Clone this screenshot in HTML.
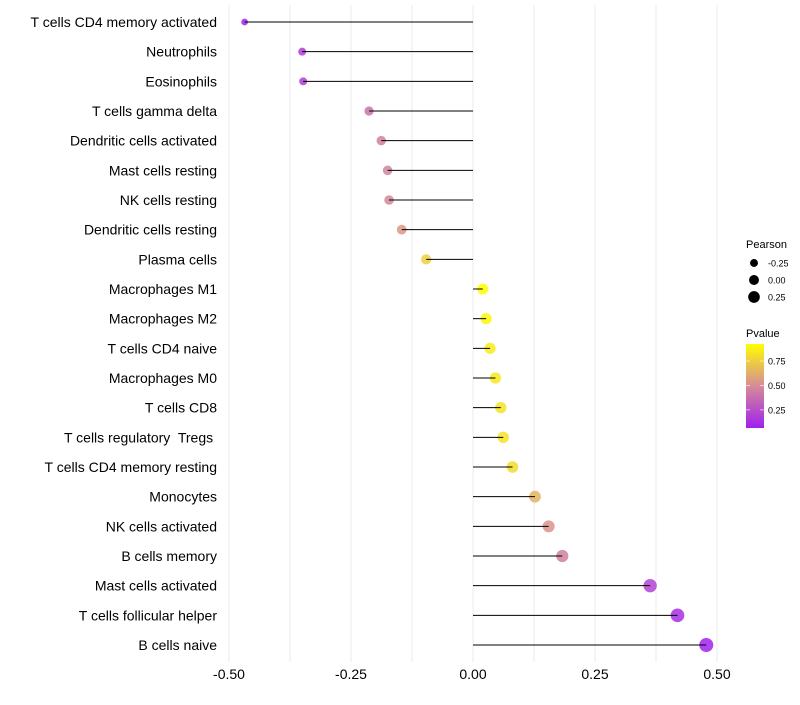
<!DOCTYPE html>
<html><head><meta charset="utf-8"><style>
body{margin:0;background:#fff;}
svg text{font-family:"Liberation Sans",Arial,sans-serif;white-space:pre;}
</style></head><body>
<svg id="chart" width="800" height="700"></svg>
<script>
const categories=["T cells CD4 memory activated","Neutrophils","Eosinophils","T cells gamma delta","Dendritic cells activated","Mast cells resting","NK cells resting","Dendritic cells resting","Plasma cells","Macrophages M1","Macrophages M2","T cells CD4 naive","Macrophages M0","T cells CD8","T cells regulatory  Tregs ","T cells CD4 memory resting","Monocytes","NK cells activated","B cells memory","Mast cells activated","T cells follicular helper","B cells naive"];
const pearson=[-0.468,-0.35,-0.348,-0.213,-0.188,-0.175,-0.172,-0.146,-0.096,0.02,0.027,0.035,0.046,0.057,0.062,0.081,0.127,0.155,0.183,0.363,0.419,0.478];
const pvalue=[0.07,0.18,0.18,0.4,0.45,0.47,0.48,0.55,0.75,0.93,0.9,0.86,0.85,0.83,0.82,0.8,0.65,0.53,0.45,0.2,0.12,0.07];
const xTicks=[-0.5,-0.25,0,0.25,0.5];
const xTickLabels=["-0.50","-0.25","0.00","0.25","0.50"];
const sizeLegend=[-0.25,0,0.25];
const sizeLegendLabels=["-0.25","0.00","0.25"];
const colorTicks=[0.75,0.5,0.25];
const colorTickLabels=["0.75","0.50","0.25"];

const NS="http://www.w3.org/2000/svg";
const svg=document.getElementById('chart');
function mk(tag,attrs,parent){const e=document.createElementNS(NS,tag);for(const k in attrs)e.setAttribute(k,attrs[k]);(parent||svg).appendChild(e);return e;}
const xScale=v=>473+v*488;
const yScale=i=>22+i*(645-22)/(categories.length-1);
const rScale=v=>Math.sqrt(Math.max(4,30+40*v));
function lerp(a,b,t){return Math.round(a+(b-a)*t);}
const stops=[[0.06,[160,32,240]],[0.5,[214,140,150]],[0.93,[255,255,0]]];
function color(p){
  if(p<=stops[0][0])return `rgb(${stops[0][1]})`;
  for(let i=0;i<stops.length-1;i++){const [a,ca]=stops[i],[b,cb]=stops[i+1];
    if(p<=b){const t=(p-a)/(b-a);return `rgb(${lerp(ca[0],cb[0],t)},${lerp(ca[1],cb[1],t)},${lerp(ca[2],cb[2],t)})`;}}
  return `rgb(${stops[2][1]})`;
}
for(let v=-0.5;v<=0.5001;v+=0.125){
  const g=mk('line',{x1:xScale(v),x2:xScale(v),y1:5,y2:662,stroke:'#ebebeb','stroke-width':1});
  
  
}
xTicks.forEach((v,i)=>{
  const t=mk('text',{x:xScale(v),y:679,'text-anchor':'middle','font-size':14,fill:'#000'});
  t.textContent=xTickLabels[i];
  
  
});
categories.forEach((c,i)=>{
  const y=yScale(i);
  const t=mk('text',{x:217,y:y+5,'text-anchor':'end','font-size':14,fill:'#000'});
  t.textContent=c;
  
  
  const d=mk('circle',{cx:xScale(pearson[i]),cy:y,r:rScale(pearson[i]),fill:color(pvalue[i]),'fill-opacity':0.85});
  
  
  const l=mk('line',{x1:xScale(pearson[i]),x2:xScale(0),y1:y,y2:y,stroke:'#000','stroke-width':1});
  
  
});
const st=mk('text',{x:746,y:248,'font-size':11,fill:'#000'});st.textContent='Pearson';


sizeLegend.forEach((v,i)=>{
  const y=263+i*17;
  const c=mk('circle',{cx:754,cy:y,r:rScale(v)-0.5,fill:'#000'});
  
  
  const t=mk('text',{x:768,y:y+3.5,'font-size':9,fill:'#000'});t.textContent=sizeLegendLabels[i];
  
  
});
const ct=mk('text',{x:746,y:337,'font-size':11,fill:'#000'});ct.textContent='Pvalue';


const defs=mk('defs',{});
const grad=mk('linearGradient',{id:'pg',x1:0,y1:1,x2:0,y2:0},defs);
const pTop=0.925,pBot=0.064;
for(let k=0;k<=10;k++){const p=pBot+(pTop-pBot)*k/10;mk('stop',{offset:k/10,'stop-color':color(p)},grad);}
const bar=mk('rect',{x:746,y:344,width:18,height:84,fill:'url(#pg)'});


const cy=p=>428-(p-pBot)/(pTop-pBot)*84;
colorTicks.forEach((v,i)=>{
  mk('line',{x1:746,x2:750,y1:cy(v),y2:cy(v),stroke:'#fff','stroke-opacity':0.6});
  mk('line',{x1:760,x2:764,y1:cy(v),y2:cy(v),stroke:'#fff','stroke-opacity':0.6});
  const t=mk('text',{x:768,y:cy(v)+3.5,'font-size':9,fill:'#000'});t.textContent=colorTickLabels[i];
  
  
});
</script>
</body></html>
